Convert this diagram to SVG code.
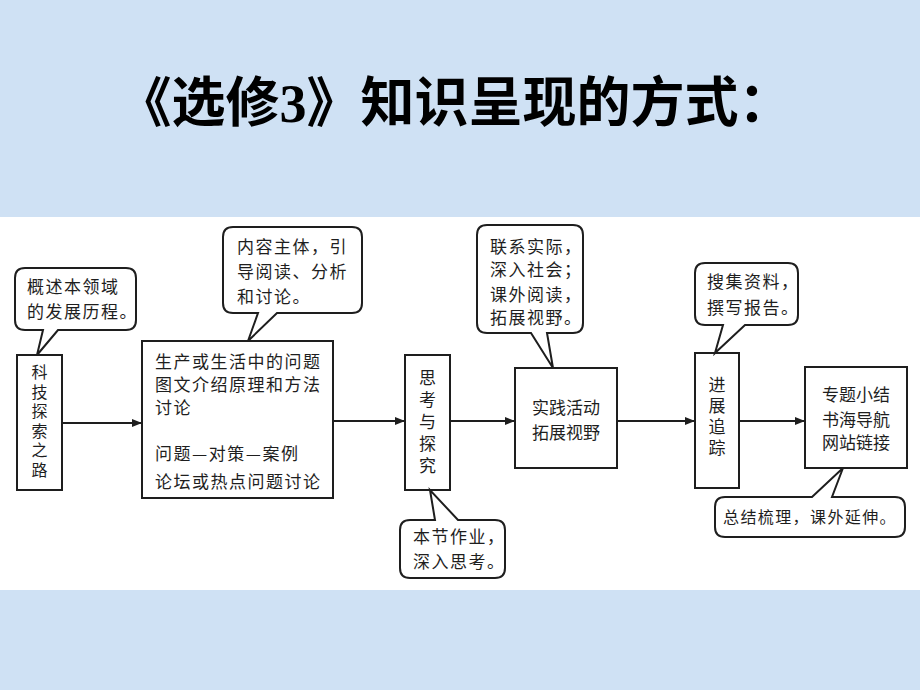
<svg xmlns="http://www.w3.org/2000/svg" width="920" height="690" viewBox="0 0 920 690">
<defs>
<style>
.bg{fill:#cfe1f4}
.panel{fill:#ffffff}
.box{fill:#ffffff;stroke:#1e1e1e;stroke-width:2}
.call{fill:#ffffff;stroke:#1e1e1e;stroke-width:2;stroke-linejoin:miter}
.t{font-family:"Noto Sans CJK SC","Noto Sans",sans-serif;font-size:17px;fill:#1e1e1e;letter-spacing:1.5px}
.tc{font-family:"Noto Sans CJK SC","Noto Sans",sans-serif;font-size:17px;fill:#1e1e1e;text-anchor:middle}
.tv{font-family:"Noto Sans CJK SC","Noto Sans",sans-serif;font-size:17px;fill:#1e1e1e;writing-mode:vertical-rl;text-anchor:start}
.title{font-family:"Liberation Serif","Noto Sans CJK SC",serif;font-size:54px;font-weight:bold;fill:#000;text-anchor:middle}
.conn{stroke:#1e1e1e;stroke-width:2.2;fill:none;marker-end:url(#ah)}
</style>
<marker id="ah" viewBox="0 0 10 8" refX="10" refY="4" markerWidth="10" markerHeight="8" markerUnits="userSpaceOnUse" orient="auto">
<path d="M0,0 L10,4 L0,8 Z" fill="#1e1e1e"/>
</marker>
</defs>
<rect class="bg" x="0" y="0" width="920" height="690"/>
<rect class="panel" x="0" y="217" width="920" height="373"/>
<text class="title" x="455" y="122">《选修3》知识呈现的方式：</text>

<g id="connectors">
<line class="conn" x1="62" y1="423" x2="142" y2="423"/>
<line class="conn" x1="333" y1="421" x2="405" y2="421"/>
<line class="conn" x1="450" y1="421" x2="515" y2="421"/>
<line class="conn" x1="617" y1="421" x2="695" y2="421"/>
<line class="conn" x1="739" y1="421" x2="805" y2="421"/>
</g>

<g id="node-kejitansuo">
<rect class="box" x="17" y="355" width="45" height="135"/>
<text class="tv" x="39.5" y="364" style="font-size:16px;letter-spacing:3.6px">科技探索之路</text>
</g>

<g id="callout-gaishu">
<path class="call" d="M25,268 H126 Q136,268 136,278 V320 Q136,330 126,330 H58 L37,355 L43,330 H25 Q15,330 15,320 V278 Q15,268 25,268 Z"/>
<text class="t" x="27" y="293">概述本领域</text>
<text class="t" x="27" y="318">的发展历程。</text>
</g>

<g id="node-content">
<rect class="box" x="142" y="341" width="191" height="157"/>
<text class="t" x="155" y="368">生产或生活中的问题</text>
<text class="t" x="155" y="391">图文介绍原理和方法</text>
<text class="t" x="155" y="414">讨论</text>
<text class="t" x="155" y="460">问题—对策—案例</text>
<text class="t" x="155" y="488">论坛或热点问题讨论</text>
</g>

<g id="callout-neirong">
<path class="call" d="M233,227 H352 Q362,227 362,237 V303 Q362,313 352,313 H277 L248,341 L258,313 H233 Q223,313 223,303 V237 Q223,227 233,227 Z"/>
<text class="t" x="237" y="253">内容主体，引</text>
<text class="t" x="237" y="278">导阅读、分析</text>
<text class="t" x="237" y="303">和讨论。</text>
</g>

<g id="node-sikao">
<rect class="box" x="405" y="355" width="45" height="135"/>
<text class="tv" x="427.5" y="369" style="letter-spacing:5px">思考与探究</text>
</g>

<g id="callout-zuoye">
<path class="call" d="M410,520 H435 L430,490 L458,520 H495 Q505,520 505,530 V568 Q505,578 495,578 H410 Q400,578 400,568 V530 Q400,520 410,520 Z"/>
<text class="t" x="413" y="543">本节作业，</text>
<text class="t" x="413" y="568">深入思考。</text>
</g>

<g id="node-shijian">
<rect class="box" x="515" y="368" width="102" height="100"/>
<text class="tc" x="566" y="414">实践活动</text>
<text class="tc" x="566" y="439">拓展视野</text>
</g>

<g id="callout-lianxi">
<path class="call" d="M487,225 H573 Q583,225 583,235 V323 Q583,333 573,333 H547 L553,368 L531,333 H487 Q477,333 477,323 V235 Q477,225 487,225 Z"/>
<text class="t" x="490" y="253">联系实际，</text>
<text class="t" x="490" y="276">深入社会；</text>
<text class="t" x="490" y="301">课外阅读，</text>
<text class="t" x="490" y="324">拓展视野。</text>
</g>

<g id="node-jinzhan">
<rect class="box" x="695" y="353" width="44" height="135"/>
<text class="tv" x="717" y="376.5" style="letter-spacing:4px">进展追踪</text>
</g>

<g id="callout-souji">
<path class="call" d="M705,263 H788 Q798,263 798,273 V315 Q798,325 788,325 H745 L715,353 L723,325 H705 Q695,325 695,315 V273 Q695,263 705,263 Z"/>
<text class="t" x="707" y="288">搜集资料，</text>
<text class="t" x="707" y="314">撰写报告。</text>
</g>

<g id="node-zhuanti">
<rect class="box" x="805" y="367" width="102" height="101"/>
<text class="tc" x="856" y="401">专题小结</text>
<text class="tc" x="856" y="426">书海导航</text>
<text class="tc" x="856" y="449">网站链接</text>
</g>

<g id="callout-zongjie">
<path class="call" d="M725,497 H812 L843,468 L832,497 H895 Q905,497 905,507 V527 Q905,537 895,537 H725 Q715,537 715,527 V507 Q715,497 725,497 Z"/>
<text class="t" x="723" y="523" style="font-size:16px;letter-spacing:1.4px">总结梳理，课外延伸。</text>
</g>
</svg>
